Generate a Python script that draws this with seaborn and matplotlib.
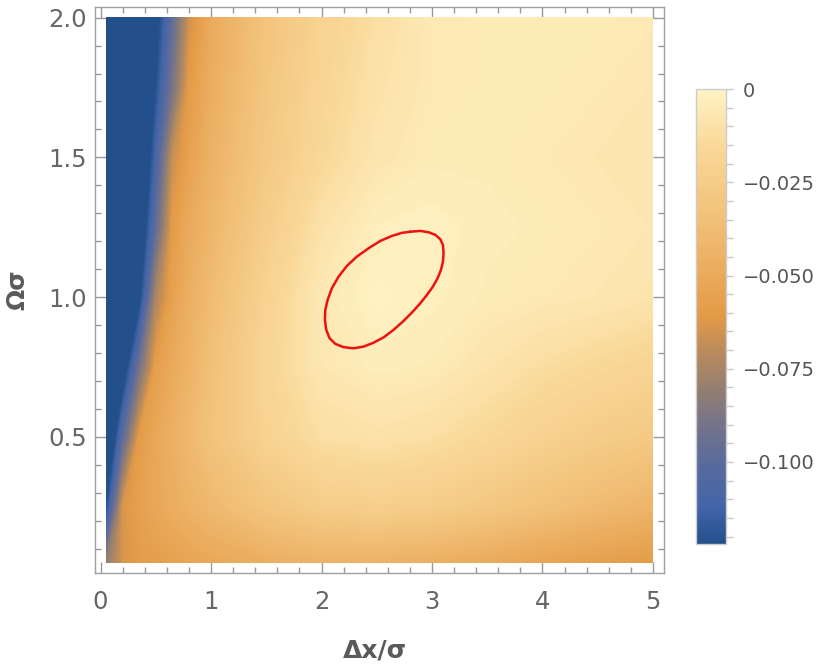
import numpy as np
import matplotlib
matplotlib.use("Agg")
import matplotlib.pyplot as plt
import seaborn as sns
from matplotlib.colors import LinearSegmentedColormap, Normalize
from matplotlib.cm import ScalarMappable
from matplotlib.ticker import MultipleLocator, FormatStrFormatter

# sample points of the density
dx_vals = [0.05, 0.2, 0.35, 0.5, 0.65, 0.8, 1.0, 1.5, 2.0, 2.5, 3.0, 3.5, 4.0, 4.5, 5.0]
omega_vals = [0.05, 0.25, 0.5, 0.75, 1.0, 1.25, 1.5, 1.75, 2.0]

# one list per Omega*sigma row, values along dx/sigma
row_005 = [-0.082, -0.064, -0.060, -0.058, -0.056, -0.054, -0.052, -0.047, -0.045, -0.045, -0.047, -0.050, -0.054, -0.057, -0.060]
row_025 = [-0.124, -0.064, -0.056, -0.052, -0.048, -0.044, -0.040, -0.031, -0.025, -0.023, -0.025, -0.029, -0.034, -0.039, -0.043]
row_050 = [-0.150, -0.100, -0.060, -0.052, -0.046, -0.040, -0.033, -0.020, -0.012, -0.010, -0.012, -0.016, -0.021, -0.025, -0.028]
row_075 = [-0.150, -0.135, -0.092, -0.058, -0.050, -0.044, -0.035, -0.018, -0.007, -0.004, -0.005, -0.009, -0.013, -0.016, -0.019]
row_100 = [-0.150, -0.150, -0.128, -0.075, -0.056, -0.047, -0.038, -0.020, -0.006, -0.001, -0.0025, -0.005, -0.006, -0.007, -0.009]
row_125 = [-0.150, -0.150, -0.140, -0.098, -0.060, -0.050, -0.042, -0.024, -0.010, -0.003, -0.002, -0.004, -0.005, -0.006, -0.007]
row_150 = [-0.150, -0.150, -0.150, -0.110, -0.068, -0.056, -0.045, -0.028, -0.016, -0.008, -0.005, -0.005, -0.006, -0.007, -0.008]
row_175 = [-0.150, -0.150, -0.150, -0.122, -0.090, -0.060, -0.048, -0.030, -0.018, -0.010, -0.006, -0.005, -0.005, -0.006, -0.007]
row_200 = [-0.150, -0.150, -0.150, -0.130, -0.098, -0.066, -0.050, -0.032, -0.020, -0.012, -0.006, -0.005, -0.005, -0.005, -0.006]

# red contour line, traced point by point
ellipse_x = [2.803, 2.894, 2.970, 3.030, 3.075, 3.099, 3.105, 3.099, 3.081, 3.051, 3.009, 2.954,
             2.894, 2.819, 2.743, 2.652, 2.562, 2.471, 2.381, 2.290, 2.200, 2.124, 2.073, 2.043,
             2.031, 2.034, 2.055, 2.094, 2.154, 2.230, 2.320, 2.426, 2.532, 2.637, 2.728, 2.803]
ellipse_y = [1.234, 1.237, 1.232, 1.223, 1.207, 1.187, 1.157, 1.127, 1.097, 1.068, 1.038, 1.008,
             0.978, 0.945, 0.915, 0.883, 0.856, 0.837, 0.823, 0.817, 0.821, 0.833, 0.853, 0.883,
             0.918, 0.954, 0.990, 1.032, 1.073, 1.112, 1.145, 1.175, 1.201, 1.219, 1.230, 1.234]

cbar_ticks = [0, -0.025, -0.05, -0.075, -0.1]
cbar_labels = ["0", "\u22120.025", "\u22120.050", "\u22120.075", "\u22120.100"]
vmin, vmax = -0.122, 0.0

Z = np.array([row_005, row_025, row_050, row_075, row_100, row_125, row_150, row_175, row_200])

# colour gradient similar to Mathematica's default density gradient
grad = LinearSegmentedColormap.from_list("m10", [
    (0.00, "#23508a"), (0.077, "#4264a9"), (0.18, "#5a6b9c"), (0.268, "#777488"),
    (0.346, "#96806f"), (0.42, "#b88a5e"), (0.50, "#e39a46"), (0.607, "#ebad5f"),
    (0.725, "#f2c27a"), (0.87, "#f9d797"), (1.00, "#fff3c5")])
grad = grad.with_extremes(under="#23508a", over="#fff3c5")

sns.set_style("ticks")
plt.rcParams["font.family"] = ["DejaVu Sans"]

fig = plt.figure(figsize=(8.3, 6.69), dpi=100)
ax = fig.add_axes([0.1145, 0.1435, 0.6855, 0.846])
cax = fig.add_axes([0.8386, 0.1868, 0.0361, 0.680])

ax.contourf(dx_vals, omega_vals, Z, levels=np.linspace(vmin, vmax, 160),
            cmap=grad, extend="both", antialiased=False)
sns.lineplot(x=ellipse_x, y=ellipse_y, sort=False, estimator=None,
             color="#ee1111", lw=1.8, ax=ax)

ax.set_xlim(-0.05, 5.10)
ax.set_ylim(0.013, 2.038)
ax.xaxis.set_major_locator(MultipleLocator(1))
ax.xaxis.set_minor_locator(MultipleLocator(0.2))
ax.yaxis.set_major_locator(MultipleLocator(0.5))
ax.yaxis.set_minor_locator(MultipleLocator(0.1))
ax.yaxis.set_major_formatter(FormatStrFormatter("%.1f"))

ax.tick_params(which="both", direction="in", top=True, right=True,
               color="#999999", width=1, labelcolor="#666666", labelsize=17.5)
ax.tick_params(which="major", length=8)
ax.tick_params(which="minor", length=4)
ax.tick_params(axis="x", pad=12)
ax.tick_params(axis="y", pad=6)
for s in ax.spines.values():
    s.set_color("#a0a0a0")
    s.set_linewidth(1)

ax.set_xlabel("\u0394x/\u03c3", fontsize=18, fontweight="bold", color="#5a5a5a")
ax.set_ylabel("\u03a9\u03c3", fontsize=18, fontweight="bold", color="#5a5a5a")
ax.xaxis.set_label_coords(0.492, -0.115)
ax.yaxis.set_label_coords(-0.115, 0.5)

cb = fig.colorbar(ScalarMappable(norm=Normalize(vmin, vmax), cmap=grad), cax=cax)
cb.set_ticks(cbar_ticks)
cb.set_ticklabels(cbar_labels)
cb.ax.yaxis.set_minor_locator(MultipleLocator(0.005))
cb.ax.tick_params(which="both", length=5, width=1, color="#c8c8c8",
                  labelcolor="#555555", labelsize=14, pad=7)
cb.outline.set_edgecolor("#cccccc")
cb.outline.set_linewidth(1)

plt.savefig("out.png", dpi=100)
plt.close()
